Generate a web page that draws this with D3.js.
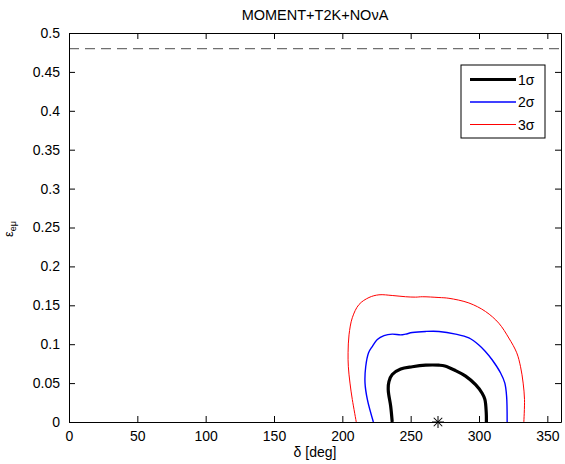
<!DOCTYPE html>
<html>
<head>
<meta charset="utf-8">
<script src="https://cdn.jsdelivr.net/npm/d3@7"></script>
<style>
  body { margin: 0; background: #fff; }
  text { font-family: "Liberation Sans", Arial, sans-serif; }
</style>
</head>
<body>
<div id="chart"></div>
<script>
// contour points, delta [deg] vs eps_emu
const sig1Delta = [236.5, 235.4, 233.6, 234.1, 236.5, 242.7, 251.2, 261, 270.7, 275, 282.9, 290.2, 297.5, 302.3, 304.3, 305.3, 305.4];
const sig1Eps   = [0, 0.020, 0.041, 0.052, 0.061, 0.068, 0.071, 0.073, 0.073, 0.072, 0.066, 0.059, 0.048, 0.037, 0.029, 0.012, 0];

const sig2Delta = [222.7, 218.3, 216.6, 217.1, 219.2, 221.9, 225.6, 230.5, 236.5, 242.7, 246.3, 251.2, 261, 270.7, 282.9, 292.6, 299.9, 304.5, 309.6, 315.8, 318.9, 320.2, 320.6];
const sig2Eps   = [0, 0.029, 0.050, 0.071, 0.089, 0.097, 0.106, 0.111, 0.113, 0.112, 0.113, 0.115, 0.1164, 0.1164, 0.113, 0.108, 0.099, 0.091, 0.080, 0.063, 0.050, 0.033, 0];

const sig3Delta = [210.2, 207.3, 205.6, 204.4, 204.2, 204.9, 207.3, 212.2, 219.5, 226.8, 236.5, 246.3, 253.6, 258.5, 270.7, 278, 292.6, 304.8, 314.5, 321.8, 327.6, 330.4, 332.3, 333.3, 332.8];
const sig3Eps   = [0, 0.029, 0.050, 0.071, 0.089, 0.112, 0.134, 0.151, 0.160, 0.1635, 0.1626, 0.161, 0.1605, 0.161, 0.160, 0.159, 0.153, 0.142, 0.127, 0.108, 0.089, 0.071, 0.050, 0.029, 0];

const trueDelta = 270, trueEps = 0;
const boundEps = 0.48;

const xTicks = [0, 50, 100, 150, 200, 250, 300, 350];
const yTicks = [0, 0.05, 0.1, 0.15, 0.2, 0.25, 0.3, 0.35, 0.4, 0.45, 0.5];
const legendLabels = ["1σ", "2σ", "3σ"];

const width = 565, height = 464;
const margin = { top: 33, right: 4, bottom: 42, left: 69 };

const svg = d3.select("#chart")
    .append("svg")
    .attr("width", width)
    .attr("height", height);

const x = d3.scaleLinear().domain([0, 360]).range([margin.left, width - margin.right]);
const y = d3.scaleLinear().domain([0, 0.5]).range([height - margin.bottom, margin.top]);

svg.append("clipPath").attr("id", "clip")
    .append("rect")
    .attr("x", margin.left).attr("y", margin.top)
    .attr("width", x(360) - x(0)).attr("height", y(0) - y(0.5));

const plot = svg.append("g").attr("clip-path", "url(#clip)");

// dashed bound
plot.append("line")
    .attr("x1", x(0)).attr("x2", x(360))
    .attr("y1", y(boundEps)).attr("y2", y(boundEps))
    .attr("stroke", "#707070")
    .attr("stroke-width", 1.3)
    .attr("stroke-dasharray", "10,6");

const line = d3.line()
    .x(d => x(d[0]))
    .y(d => y(d[1]))
    .curve(d3.curveCatmullRom.alpha(0.5));

const contours = [
    { dx: sig3Delta, dy: sig3Eps, color: "#ff0000", w: 1 },
    { dx: sig2Delta, dy: sig2Eps, color: "#0000ff", w: 1.4 },
    { dx: sig1Delta, dy: sig1Eps, color: "#000000", w: 3.2 }
];

contours.forEach(c => {
    plot.append("path")
        .datum(c.dx.map((d, i) => [d, c.dy[i]]))
        .attr("fill", "none")
        .attr("stroke", c.color)
        .attr("stroke-width", c.w)
        .attr("stroke-linejoin", "round")
        .attr("d", line);
});

// axes (MATLAB box, inward ticks)
const tick = 6;
svg.append("g")
    .attr("transform", `translate(0,${y(0)})`)
    .call(d3.axisBottom(x).tickValues(xTicks).tickSizeInner(-tick).tickSizeOuter(0).tickPadding(9).tickFormat(d => d));
svg.append("g")
    .attr("transform", `translate(0,${y(0.5)})`)
    .call(d3.axisTop(x).tickValues(xTicks).tickSizeInner(-tick).tickSizeOuter(0).tickFormat(""));
svg.append("g")
    .attr("transform", `translate(${x(0)},0)`)
    .call(d3.axisLeft(y).tickValues(yTicks).tickSizeInner(-tick).tickSizeOuter(0).tickPadding(9).tickFormat(d => d));
svg.append("g")
    .attr("transform", `translate(${x(360)},0)`)
    .call(d3.axisRight(y).tickValues(yTicks).tickSizeInner(-tick).tickSizeOuter(0).tickFormat(""));

svg.selectAll(".tick text").style("font-size", "14px").attr("fill", "#000");
svg.selectAll(".domain, .tick line").attr("stroke", "#000").attr("stroke-width", 1);

// true value marker
const star = svg.append("g").attr("transform", `translate(${x(trueDelta)},${y(trueEps)})`);
[0, 45, 90, 135].forEach(a => {
    star.append("line")
        .attr("x1", -6).attr("x2", 6)
        .attr("transform", `rotate(${a})`)
        .attr("stroke", "#000").attr("stroke-width", 1);
});

// title
svg.append("text")
    .attr("x", (x(0) + x(360)) / 2)
    .attr("y", 20)
    .attr("text-anchor", "middle")
    .style("font-size", "14.5px")
    .text("MOMENT+T2K+NOνA");

// x label
svg.append("text")
    .attr("x", (x(0) + x(360)) / 2)
    .attr("y", 457)
    .attr("text-anchor", "middle")
    .style("font-size", "14px")
    .text("δ [deg]");

// y label
const yl = svg.append("text")
    .attr("transform", "translate(13,229) rotate(-90)")
    .attr("text-anchor", "middle")
    .style("font-size", "13px");
yl.append("tspan").text("ε");
yl.append("tspan").attr("dy", 3).style("font-size", "9px").text("eμ");

// legend
const lg = svg.append("g");
lg.append("rect")
    .attr("x", 461).attr("y", 65)
    .attr("width", 84).attr("height", 73)
    .attr("fill", "#fff").attr("stroke", "#000").attr("stroke-width", 1);
const legendRows = [79.5, 102, 124.5];
[...contours].reverse().forEach((c, i) => {
    lg.append("line")
        .attr("x1", 470).attr("x2", 516)
        .attr("y1", legendRows[i]).attr("y2", legendRows[i])
        .attr("stroke", c.color).attr("stroke-width", c.w);
    lg.append("text")
        .attr("x", 518).attr("y", legendRows[i] + 5)
        .style("font-size", "14px")
        .text(legendLabels[i]);
});
</script>
</body>
</html>
